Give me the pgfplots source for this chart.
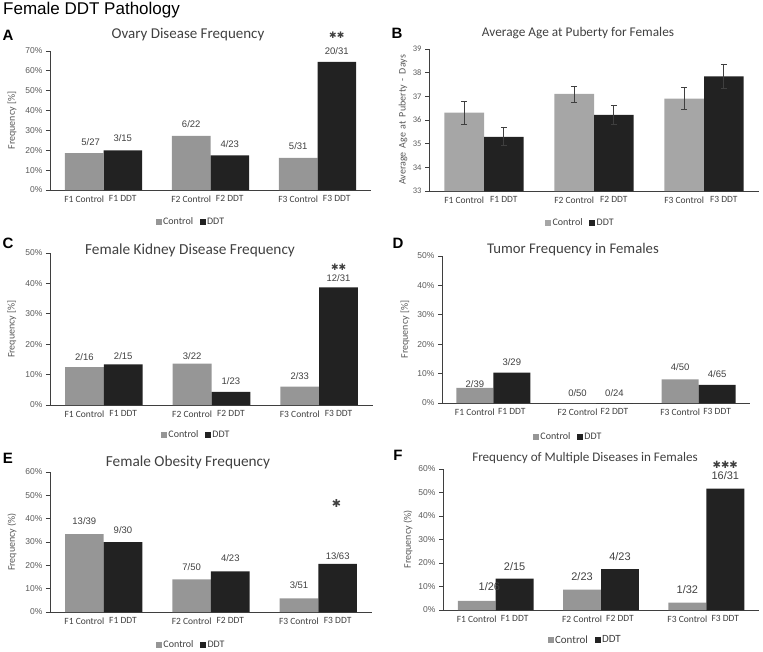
\documentclass[border=0pt]{standalone}
\usepackage{pgfplots}
\pgfplotsset{compat=1.18}
\usepackage{fontspec}
\setmainfont{Carlito}
\newfontfamily\arial{Liberation Sans}
\newfontfamily\djv{DejaVu Sans}
\newcommand{\fs}[1]{\fontsize{#1}{#1}\selectfont}
\definecolor{ctrl}{HTML}{969696}
\definecolor{ctrlb}{HTML}{A6A6A6}
\definecolor{ddt}{HTML}{222222}
\definecolor{axc}{HTML}{3F3F3F}
\definecolor{txt}{HTML}{404040}
\definecolor{lbl}{HTML}{595959}
\pgfplotsset{
  panel/.style={
    scale only axis, anchor=south west,
    xmin=0.5, xmax=3.5, ymin=0,
    axis x line*=bottom, axis y line*=left,
    axis line style={axc, line width=0.8pt, -},
    xtick={0.82,1.18,1.82,2.18,2.82,3.18},
    xticklabels={F1 Control,F1 DDT,F2 Control,F2 DDT,F3 Control,F3 DDT},
    major x tick style={draw=none},
    tick align=outside, major tick length=4pt,
    major y tick style={axc, line width=0.8pt},
    xticklabel style={font=\fs{9.5}, text=txt, yshift=2pt},
    yticklabel style={font=\arial\fs{8.5}, text=lbl},
    /pgf/number format/assume math mode=true,
    ylabel style={font=\fs{10}, text=lbl, anchor=center},
    legend style={draw=none, fill=none, legend columns=2, font=\fs{10}, text=txt, anchor=center,
      nodes={inner xsep=1.5pt},
      /tikz/every even column/.append style={column sep=5pt}},
    clip=false,
  },
  ctrlbar/.style={ybar, bar width=0.36, bar shift=0pt, fill=#1, draw=none,
    legend image code/.code={\fill[#1] (0pt,-3pt) rectangle (6pt,3pt);}},
  ctrlbar/.default=ctrl,
  ddtbar/.style={ybar, bar width=0.36, bar shift=0pt, fill=ddt, draw=none,
    legend image code/.code={\fill[ddt] (0pt,-3pt) rectangle (6pt,3pt);}},
}
\begin{document}
\begin{tikzpicture}[x=1pt,y=1pt]
\useasboundingbox (0,0) rectangle (763,-651);
% main title
\node[anchor=west, font=\arial\fs{17}, text=black, inner sep=0] at (3,-10) {Female DDT Pathology};
% panel letters
\foreach \l/\x/\y in {A/8/35,B/397/33,C/8/243,D/398/243,E/8/458,F/398/455}
  \node[font=\arial\bfseries\fs{15}, inner sep=0] at (\x,-\y) {\l};
% titles
\node[font=\fs{15}, text=txt] at (188,-35) {Ovary Disease Frequency};
\node[font=\fs{13.3}, text=txt] at (578,-33) {Average Age at Puberty for Females};
\node[font=\fs{15.3}, text=txt] at (190,-250) {Female Kidney Disease Frequency};
\node[font=\fs{14.75}, text=txt] at (573,-250) {Tumor Frequency in Females};
\node[font=\fs{15.3}, text=txt] at (188,-462) {Female Obesity Frequency};
\node[font=\fs{13.1}, text=txt] at (585,-458) {Frequency of Multiple Diseases in Females};

% ---------------- A
\begin{axis}[panel, at={(50pt,-190pt)}, width=321pt, height=139pt,
  ymax=70, ytick={0,10,...,70},
  yticklabels={0\%,10\%,20\%,30\%,40\%,50\%,60\%,70\%},
  ylabel={Frequency [\%]}, ylabel style={at={(axis description cs:-0.118,0.5)}},
  legend style={at={(axis description cs:0.438,-0.23)}}]
\addplot[ctrlbar] coordinates {(0.82,18.52) (1.82,27.27) (2.82,16.13)};
\addplot[ddtbar] coordinates {(1.18,20.00) (2.18,17.39) (3.18,64.52)};
\legend{Control,DDT}
\begin{scope}[font=\arial\fs{9.5}, text=txt]
\node at (axis cs:0.88,24.2) {5/27};
\node at (axis cs:1.18,26.2) {3/15};
\node at (axis cs:1.82,33.2) {6/22};
\node at (axis cs:2.18,23.2) {4/23};
\node at (axis cs:2.82,22.2) {5/31};
\node at (axis cs:3.18,70.0) {20/31};
\end{scope}
\node[font=\djv\fs{9}, text=txt] at (axis cs:3.18,78) {✱✱};
\end{axis}

% ---------------- B
\begin{axis}[panel, at={(429pt,-191pt)}, width=330pt, height=142pt,
  ymin=33, ymax=39, ytick={33,...,39}, clip=true,
  yticklabel style={font=\fs{8.5}, text=lbl},
  ylabel={Average\, Age\, at\, Puberty\, -\, Days}, ylabel style={at={(axis description cs:-0.079,0.5)}},
  legend style={at={(axis description cs:0.458,-0.225)}},
  error bars/error bar style={axc, line width=0.8pt},
  error bars/error mark options={rotate=90, mark size=3pt, axc, line width=0.8pt}]
\addplot[ctrlbar=ctrlb, error bars/.cd, y dir=both, y explicit]
  coordinates {(0.82,36.31) +- (0,0.49) (1.82,37.10) +- (0,0.34) (2.82,36.90) +- (0,0.47)};
\addplot[ddtbar, error bars/.cd, y dir=both, y explicit]
  coordinates {(1.18,35.29) +- (0,0.38) (2.18,36.22) +- (0,0.39) (3.18,37.84) +- (0,0.51)};
\legend{Control,DDT}
\end{axis}

% ---------------- C
\begin{axis}[panel, at={(50pt,-405pt)}, width=323pt, height=152pt,
  ymax=50, ytick={0,10,...,50},
  yticklabels={0\%,10\%,20\%,30\%,40\%,50\%},
  ylabel={Frequency [\%]}, ylabel style={at={(axis description cs:-0.118,0.5)}},
  legend style={at={(axis description cs:0.452,-0.197)}}]
\addplot[ctrlbar] coordinates {(0.82,12.50) (1.82,13.64) (2.82,6.06)};
\addplot[ddtbar] coordinates {(1.18,13.33) (2.18,4.35) (3.18,38.71)};
\legend{Control,DDT}
\begin{scope}[font=\arial\fs{9.5}, text=txt]
\node at (axis cs:0.82,15.9) {2/16};
\node at (axis cs:1.18,16.2) {2/15};
\node at (axis cs:1.82,16.2) {3/22};
\node at (axis cs:2.18,8.0) {1/23};
\node at (axis cs:2.82,9.6) {2/33};
\node at (axis cs:3.18,41.7) {12/31};
\end{scope}
\node[font=\djv\fs{9}, text=txt] at (axis cs:3.18,45.3) {✱✱};
\end{axis}

% ---------------- D
\begin{axis}[panel, at={(442pt,-403pt)}, width=308pt, height=147pt,
  ymax=50, ytick={0,10,...,50},
  yticklabels={0\%,10\%,20\%,30\%,40\%,50\%},
  ylabel={Frequency [\%]}, ylabel style={at={(axis description cs:-0.12,0.5)}},
  legend style={at={(axis description cs:0.409,-0.231)}}]
\addplot[ctrlbar] coordinates {(0.82,5.13) (1.82,0) (2.82,8.00)};
\addplot[ddtbar] coordinates {(1.18,10.34) (2.18,0) (3.18,6.15)};
\legend{Control,DDT}
\begin{scope}[font=\arial\fs{9.5}, text=txt]
\node at (axis cs:0.82,6.3) {2/39};
\node at (axis cs:1.18,14.0) {3/29};
\node at (axis cs:1.82,3.5) {0/50};
\node at (axis cs:2.18,3.5) {0/24};
\node at (axis cs:2.82,12.3) {4/50};
\node at (axis cs:3.18,9.9) {4/65};
\end{scope}
\end{axis}

% ---------------- E
\begin{axis}[panel, at={(50pt,-612pt)}, width=322pt, height=140pt,
  ymax=60, ytick={0,10,...,60},
  yticklabels={0\%,10\%,20\%,30\%,40\%,50\%,60\%},
  ylabel={Frequency (\%)}, ylabel style={at={(axis description cs:-0.118,0.5)}},
  legend style={at={(axis description cs:0.438,-0.236)}}]
\addplot[ctrlbar] coordinates {(0.82,33.33) (1.82,14.00) (2.82,5.88)};
\addplot[ddtbar] coordinates {(1.18,30.00) (2.18,17.39) (3.18,20.63)};
\legend{Control,DDT}
\begin{scope}[font=\arial\fs{9.5}, text=txt]
\node at (axis cs:0.82,39.0) {13/39};
\node at (axis cs:1.18,35.1) {9/30};
\node at (axis cs:1.82,19.4) {7/50};
\node at (axis cs:2.18,23.3) {4/23};
\node at (axis cs:2.82,11.6) {3/51};
\node at (axis cs:3.18,24.0) {13/63};
\end{scope}
\node[font=\djv\fs{11}, text=txt] at (axis cs:3.17,46.6) {✱};
\end{axis}

% ---------------- F
\begin{axis}[panel, at={(443pt,-610pt)}, width=316pt, height=141pt,
  ymax=60, ytick={0,10,...,60},
  yticklabels={0\%,10\%,20\%,30\%,40\%,50\%,60\%},
  ylabel={Frequency (\%)}, ylabel style={at={(axis description cs:-0.111,0.5)}},
  legend style={at={(axis description cs:0.449,-0.213)}, font=\fs{11}}]
\addplot[ctrlbar] coordinates {(0.82,3.85) (1.82,8.70) (2.82,3.13)};
\addplot[ddtbar] coordinates {(1.18,13.33) (2.18,17.39) (3.18,51.61)};
\legend{Control,DDT}
\begin{scope}[font=\arial\fs{11}, text=txt]
\node at (axis cs:0.94,9.9) {1/26};
\node at (axis cs:1.18,18.4) {2/15};
\node at (axis cs:1.82,14.2) {2/23};
\node at (axis cs:2.18,22.7) {4/23};
\node at (axis cs:2.82,8.8) {1/32};
\node at (axis cs:3.18,57.2) {16/31};
\end{scope}
\node[font=\djv\fs{10}, text=txt] at (axis cs:3.18,61.7) {✱✱✱};
\end{axis}
\end{tikzpicture}
\end{document}
